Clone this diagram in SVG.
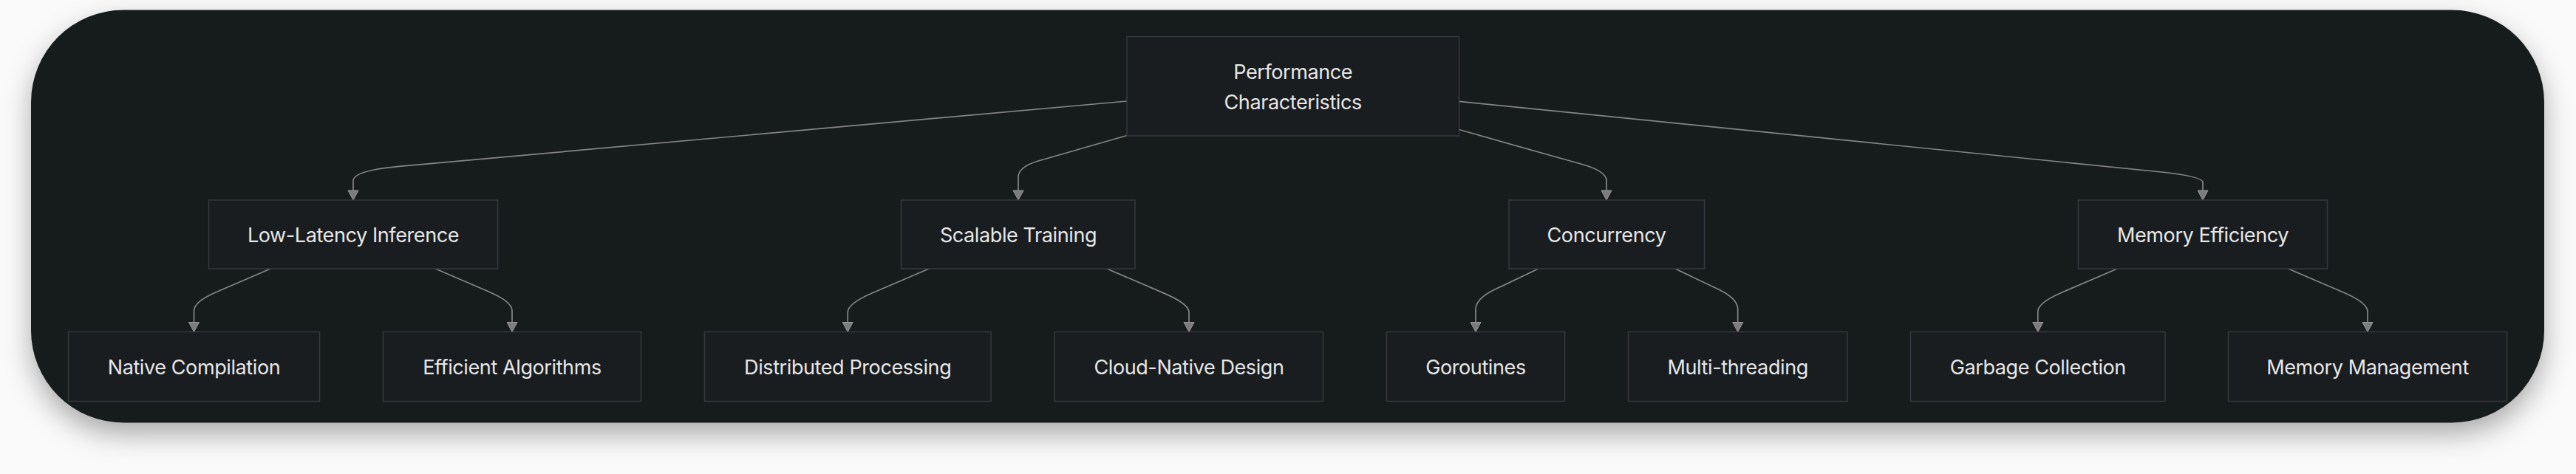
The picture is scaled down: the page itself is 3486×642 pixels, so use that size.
<svg xmlns="http://www.w3.org/2000/svg" width="3486" height="642" viewBox="0 0 3486 642">
<style>
.node rect{fill:#1a1d1f;stroke:#35393d;stroke-width:1.5}
.node text{font-family:Inter,"Liberation Sans",sans-serif;font-size:27px;letter-spacing:-0.4px;fill:#e6e7e8;text-anchor:middle}
.edge{fill:none;stroke:#858585;stroke-width:1.7}
</style>
<defs>
<filter id="sh" x="-5%" y="-20%" width="110%" height="150%">
<feDropShadow dx="0" dy="16" stdDeviation="18" flood-color="#000" flood-opacity="0.32"/>
</filter>
<marker id="arr" markerUnits="userSpaceOnUse" markerWidth="16" markerHeight="16" viewBox="-1 -1 15 16" refX="13" refY="7" orient="auto">
<path d="M0,0 L13,7 L0,14 z" fill="#7c7c7c" stroke="#9a9a9a" stroke-width="1"/>
</marker>
</defs>
<rect width="3486" height="642" fill="#fafafa"/>
<rect x="42" y="13.5" width="3401" height="559" rx="125" ry="125" fill="#181b1d" filter="url(#sh)"/>
<g id="connectors">
<path class="edge" marker-end="url(#arr)" d="M1525 137 L540 225.4 Q478 231 478 245 L478 271"/>
<path class="edge" marker-end="url(#arr)" d="M1525 183.5 L1405 218 Q1378 226 1378 240 L1378 271"/>
<path class="edge" marker-end="url(#arr)" d="M1974.5 175.5 L2140 222.3 Q2174 231.6 2174 245 L2174 271"/>
<path class="edge" marker-end="url(#arr)" d="M1974.5 137.3 L2920 232.5 Q2981 238.7 2981 247 L2981 271"/>
<path class="edge" marker-end="url(#arr)" d="M366 364 L293.5 395.2 Q262.5 408.5 262.5 421 L262.5 449.5"/>
<path class="edge" marker-end="url(#arr)" d="M589.3 364 L661.9 395.2 Q693 408.6 693 421 L693 449.5"/>
<path class="edge" marker-end="url(#arr)" d="M1257 364 L1180.1 397 Q1147.2 411.2 1147.2 423 L1147.2 449.5"/>
<path class="edge" marker-end="url(#arr)" d="M1498 364 L1575.7 397.4 Q1609 411.7 1609 423 L1609 449.5"/>
<path class="edge" marker-end="url(#arr)" d="M2081.7 364 L2022.4 392.3 Q1997 404.7 1997 419 L1997 449.5"/>
<path class="edge" marker-end="url(#arr)" d="M2267 364 L2326.3 392.3 Q2351.7 404.7 2351.7 419 L2351.7 449.5"/>
<path class="edge" marker-end="url(#arr)" d="M2865 364 L2790 396.2 Q2757.8 410 2757.8 422 L2757.8 449.5"/>
<path class="edge" marker-end="url(#arr)" d="M3096.7 364 L3171.8 396.2 Q3204 410 3204 422 L3204 449.5"/>
</g>
<g id="perf" class="node"><rect x="1525" y="49.5" width="449.5" height="134.5"/><text x="1749.7" y="107">Performance</text><text x="1749.7" y="148">Characteristics</text></g>
<g id="lowlat" class="node"><rect x="282.5" y="271" width="391" height="93"/><text x="478" y="328">Low-Latency Inference</text></g>
<g id="scal" class="node"><rect x="1219.5" y="271" width="316.5" height="93"/><text x="1378" y="328">Scalable Training</text></g>
<g id="conc" class="node"><rect x="2042" y="271" width="264.5" height="93"/><text x="2174" y="328">Concurrency</text></g>
<g id="memeff" class="node"><rect x="2812.5" y="271" width="337" height="93"/><text x="2981" y="328">Memory Efficiency</text></g>
<g id="native" class="node"><rect x="92.5" y="449.5" width="340" height="94"/><text x="262.5" y="507">Native Compilation</text></g>
<g id="effalg" class="node"><rect x="518.5" y="449.5" width="349" height="94"/><text x="693" y="507">Efficient Algorithms</text></g>
<g id="dist" class="node"><rect x="953.5" y="449.5" width="387.5" height="94"/><text x="1147.2" y="507">Distributed Processing</text></g>
<g id="cloud" class="node"><rect x="1427" y="449.5" width="363.5" height="94"/><text x="1609" y="507">Cloud-Native Design</text></g>
<g id="gor" class="node"><rect x="1876.5" y="449.5" width="241" height="94"/><text x="1997" y="507">Goroutines</text></g>
<g id="mt" class="node"><rect x="2203.5" y="449.5" width="296.5" height="94"/><text x="2351.7" y="507">Multi-threading</text></g>
<g id="gc" class="node"><rect x="2585.5" y="449.5" width="344.5" height="94"/><text x="2757.8" y="507">Garbage Collection</text></g>
<g id="mm" class="node"><rect x="3015.5" y="449.5" width="377" height="94"/><text x="3204" y="507">Memory Management</text></g>
</svg>
